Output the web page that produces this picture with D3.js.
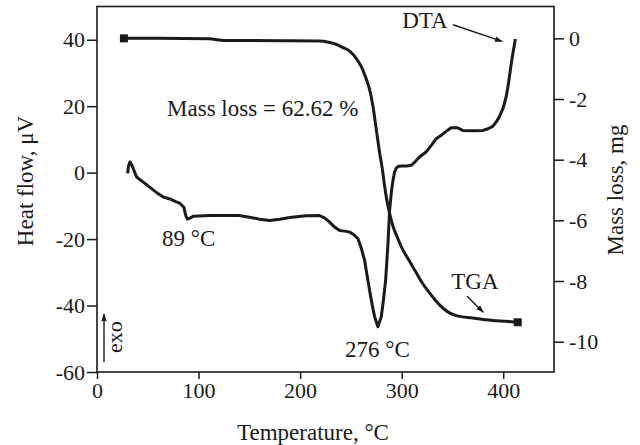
<!DOCTYPE html>
<html><head><meta charset="utf-8">
<script src="https://cdn.jsdelivr.net/npm/d3@7"></script>
<style>
html,body{margin:0;padding:0;background:#fff;}
text{font-family:"Liberation Serif","Times New Roman",serif;fill:#1a1a1a;}
</style></head>
<body><svg id="chart" width="640" height="445"></svg>
<script>
// ---- data ----
const dtaTemp = [30.2,31.0,32.4,34,39,45.5,53.8,60,65.2,73.4,78,81.6,85.5,87.5,89,92,95,111,131,140,150,160,170,180,190,206,219,224,229,234,239,244,248.8,253,257,260,263.5,266,268.4,271,273.4,276.6,279.9,282,284.2,286.5,288.1,290,291.4,293,294.7,297,300,305,309.4,313,317.6,324,330,334,340,345,348.7,355,360,370,380,385,389.7,393,396,400,403,405,406,408,409.4,412];
const dtaHeat = [-0.2,2.0,3.2,2.5,-1.3,-2.85,-4.8,-6.3,-7.35,-8.1,-8.8,-9.2,-10.4,-13.0,-14.0,-13.6,-13.1,-12.9,-12.9,-12.9,-13.4,-14.0,-14.4,-14.0,-13.5,-13.0,-12.9,-13.6,-14.9,-16.4,-17.4,-17.6,-17.9,-18.7,-19.9,-22.5,-26.4,-31,-35.4,-39.8,-43.4,-46.4,-43.4,-38.5,-32.4,-21.4,-11.4,-5.5,-2.4,0.2,1.4,1.9,2.0,2.0,2.2,3.2,4.7,6.2,8.5,10.2,11.5,12.7,13.5,13.5,12.7,12.6,12.7,13.2,13.9,15.2,16.7,19.5,23,26.5,28.7,33,35.7,40.2];
const tgaTemp = [26.5,60,110,115,125,140,180,219,228,235.7,242,248.8,253,257,260.5,263.5,266,268.4,271.7,275,278.3,281,283.2,285.5,288,291.4,295,301,307.8,314.4,320,327.4,334,340.5,347,353.7,370,389.7,403,414.3];
const tgaMass = [0,0,-0.01,-0.03,-0.07,-0.07,-0.08,-0.09,-0.13,-0.2,-0.3,-0.42,-0.56,-0.75,-0.95,-1.19,-1.42,-1.68,-2.23,-3.0,-3.77,-4.32,-4.87,-5.35,-5.75,-6.19,-6.5,-6.96,-7.35,-7.73,-8.05,-8.39,-8.67,-8.89,-9.05,-9.14,-9.22,-9.3,-9.33,-9.36];
const xTicks = [0,100,200,300,400];
const heatTicks = [-60,-40,-20,0,20,40];
const massTicks = [0,-2,-4,-6,-8,-10];

// ---- layout ----
const svg = d3.select("#chart");
const x = d3.scaleLinear().domain([0,450]).range([97,554]);
const yL = d3.scaleLinear().domain([-60,50]).range([372,6.5]);
const yR = d3.scaleLinear().domain([-11,1.05]).range([372,6.5]);
const ink = "#1a1a1a";

// frame
svg.append("rect").attr("x",x(0)).attr("y",yL(50)).attr("width",x(450)-x(0)).attr("height",yL(-60)-yL(50))
  .attr("fill","none").attr("stroke",ink).attr("stroke-width",1.6);

function styleAxis(g){
  g.select(".domain").remove();
  g.selectAll("line").attr("stroke",ink).attr("stroke-width",1.5);
  g.selectAll("text").attr("font-size",22).attr("font-family","Liberation Serif, serif").attr("fill",ink);
}
svg.append("g").attr("transform",`translate(0,${yL(-60)})`)
  .call(d3.axisBottom(x).tickValues(xTicks).tickSize(7).tickPadding(3).tickFormat(d=>String(d)))
  .call(styleAxis);
svg.append("g").attr("transform",`translate(${x(0)},0)`)
  .call(d3.axisLeft(yL).tickValues(heatTicks).tickSize(10).tickPadding(2).tickFormat(d=>String(d)))
  .call(styleAxis);
svg.append("g").attr("transform",`translate(${x(450)},0)`)
  .call(d3.axisRight(yR).tickValues(massTicks).tickSize(10).tickPadding(5).tickFormat(d=>String(d)))
  .call(styleAxis);

// curves
const dta = dtaTemp.map((t,i)=>[t,dtaHeat[i]]);
const tga = tgaTemp.map((t,i)=>[t,tgaMass[i]]);
svg.append("path").datum(dta).attr("fill","none").attr("stroke",ink).attr("stroke-width",3).attr("stroke-linejoin","round")
  .attr("d",d3.line().x(d=>x(d[0])).y(d=>yL(d[1])));
svg.append("path").datum(tga).attr("fill","none").attr("stroke",ink).attr("stroke-width",3).attr("stroke-linejoin","round")
  .attr("d",d3.line().x(d=>x(d[0])).y(d=>yR(d[1])).curve(d3.curveMonotoneX));
const ends = [tga[0], tga[tga.length-1]];
svg.selectAll(".sq").data(ends).enter().append("rect")
  .attr("x",d=>x(d[0])-4).attr("y",d=>yR(d[1])-4).attr("width",8).attr("height",8).attr("fill",ink);

// arrow marker
const defs = svg.append("defs");
defs.append("marker").attr("id","ah").attr("viewBox","0 0 10 10").attr("refX",9).attr("refY",5)
  .attr("markerWidth",8).attr("markerHeight",8).attr("markerUnits","userSpaceOnUse").attr("orient","auto")
  .append("path").attr("d","M0,1.5 L10,5 L0,8.5 Z").attr("fill",ink);

// annotations (data units)
const notes = [
  {t:"Mass loss = 62.62 %", tx:69, hy:16.9},
  {t:"89 °C", tx:64, hy:-22.2},
  {t:"276 °C", tx:244.3, hy:-55.5},
  {t:"DTA", tx:300.5, hy:43.6},
  {t:"TGA", tx:348.8, hy:-35.1}
];
svg.selectAll(".note").data(notes).enter().append("text")
  .attr("x",d=>x(d.tx)).attr("y",d=>yL(d.hy)).attr("font-size",23).text(d=>d.t);

const arrows = [
  [350.6,44.5,398.9,39.5],
  [364.4,-37.2,380.3,-42.0],
  [6.9,-57.0,6.9,-42.6]
];
svg.selectAll(".arr").data(arrows).enter().append("line")
  .attr("x1",d=>x(d[0])).attr("y1",d=>yL(d[1])).attr("x2",d=>x(d[2])).attr("y2",d=>yL(d[3]))
  .attr("stroke",ink).attr("stroke-width",1.4).attr("marker-end","url(#ah)");

svg.append("text").attr("transform",`translate(${x(24.5)},${yL(-49.5)}) rotate(-90)`)
  .attr("text-anchor","middle").attr("font-size",22).text("exo");

// axis titles
svg.append("text").attr("x",313).attr("y",440).attr("text-anchor","middle").attr("font-size",23).text("Temperature, °C");
svg.append("text").attr("transform","translate(33,181) rotate(-90)").attr("text-anchor","middle").attr("font-size",23).text("Heat flow, μV");
svg.append("text").attr("transform","translate(623,190) rotate(-90)").attr("text-anchor","middle").attr("font-size",23).text("Mass loss, mg");
</script></body></html>
